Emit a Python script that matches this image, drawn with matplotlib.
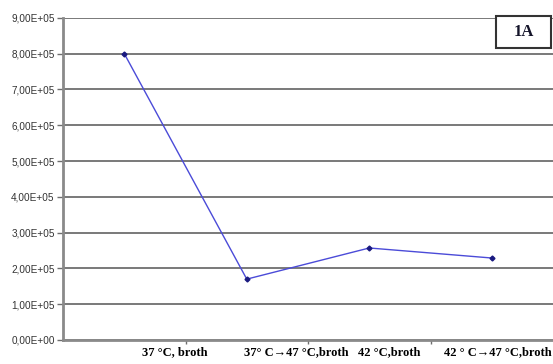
import matplotlib.pyplot as plt
from matplotlib.patches import Rectangle
from matplotlib.ticker import FuncFormatter, FixedLocator

conditions = ["37 °C, broth", "37° C→47 °C,broth", "42 °C,broth", "42 ° C→47 °C,broth"]
counts = [8.0e5, 1.70e5, 2.57e5, 2.29e5]
label_shift = [0.41, 0.40, 0.16, 0.05]
y_ticks = [i * 1e5 for i in range(10)]

LINE_COLOR = "#4b4bd8"
MARK_COLOR = "#1a1a80"
GRID_COLOR = "#6e6e6e"

fig = plt.figure(figsize=(5.53, 3.64), dpi=100)
ax = fig.add_axes([0.114, 0.066, 0.886, 0.885])

x = list(range(len(conditions)))
ax.plot(x, counts, "-", color=LINE_COLOR, lw=1.0, zorder=3)
ax.plot(x, counts, "D", color=MARK_COLOR, ms=2.5, zorder=4)

ax.set_xlim(-0.5, len(conditions) - 0.5)
ax.set_ylim(0, 9e5)
ax.yaxis.set_major_locator(FixedLocator(y_ticks))
ax.yaxis.set_major_formatter(FuncFormatter(lambda v, _: f"{v:.2E}".replace(".", ",")))
ax.grid(True, axis="y", color=GRID_COLOR, lw=1.3, zorder=1)

# category boundaries as ticks
ax.xaxis.set_major_locator(FixedLocator([i + 0.5 for i in range(len(conditions) - 1)]))
ax.set_xticklabels([])
ax.tick_params(axis="x", length=3, color=GRID_COLOR, width=1)
ax.tick_params(axis="y", length=4, color=GRID_COLOR, width=1, labelsize=7.2,
               labelcolor="#333333", pad=2)
for lab in ax.get_yticklabels():
    lab.set_family("Liberation Sans")

for sp in ["top", "right"]:
    ax.spines[sp].set_visible(False)
for sp in ["left", "bottom"]:
    ax.spines[sp].set_color("#8a8a8a")
    ax.spines[sp].set_linewidth(2)

for i, (name, dx) in enumerate(zip(conditions, label_shift)):
    ax.text(i + dx, -0.037, name, transform=ax.get_xaxis_transform(),
            ha="center", va="center", fontsize=9, fontweight="bold",
            family="Liberation Serif")

# panel tag box
ax.add_patch(Rectangle((0.884, 0.907), 0.112, 0.099, transform=ax.transAxes,
                       fc="white", ec="#333333", lw=1.5, clip_on=False, zorder=5))
ax.text(0.94, 0.957, "1A", transform=ax.transAxes, ha="center", va="center",
        fontsize=12, fontweight="bold", family="Liberation Serif", color="#15152a",
        zorder=6)

fig.savefig("out.png", dpi=100)
